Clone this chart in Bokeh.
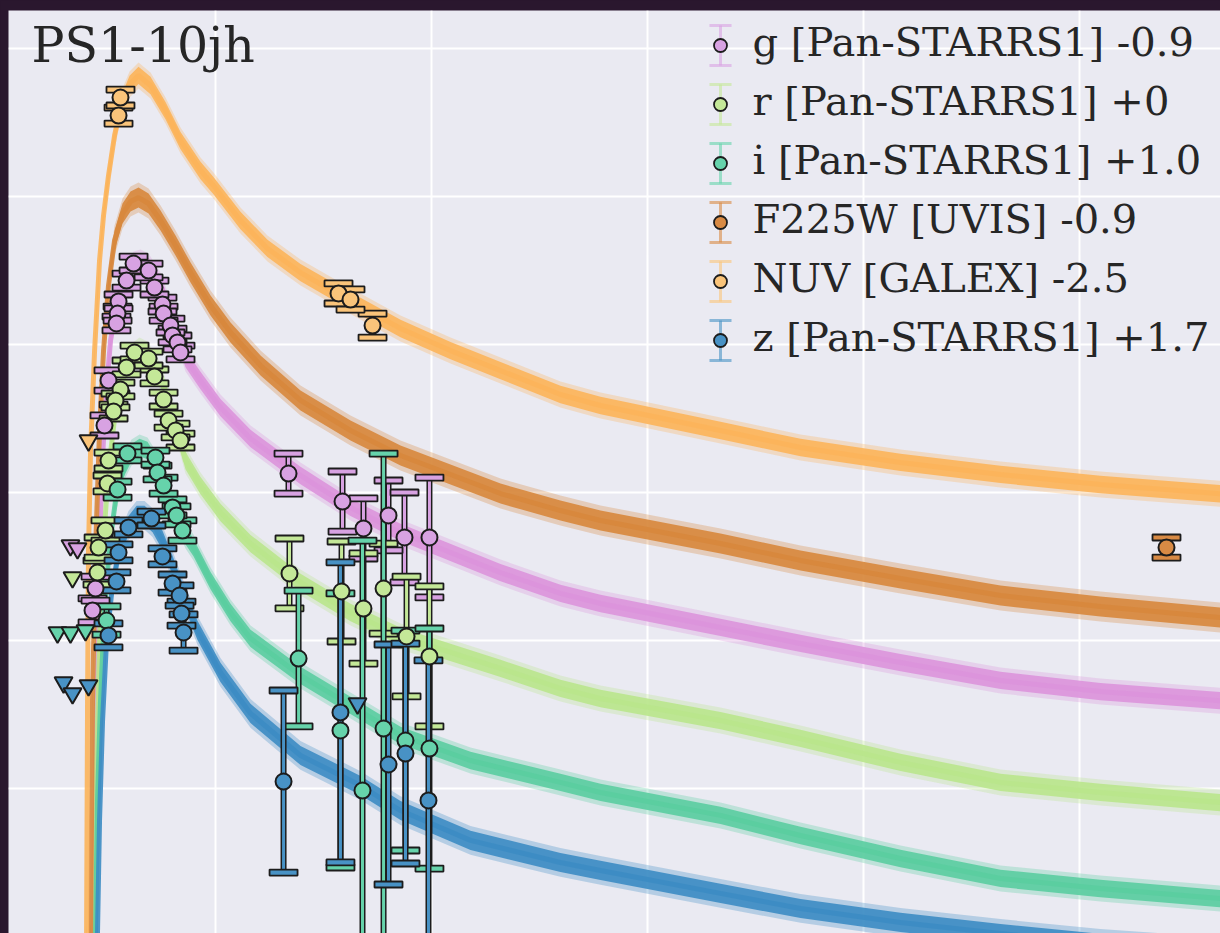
from bokeh.plotting import figure
from bokeh.models import Range1d, FixedTicker
from bokeh.embed import file_html
from bokeh.resources import INLINE
from bokeh.core.properties import value

# ---------------- data (MJD, apparent magnitude incl. offsets) ----------------
band_names = ["g", "r", "i", "F225W", "NUV", "z"]
legend_labels = ["g [Pan-STARRS1] -0.9", "r [Pan-STARRS1] +0", "i [Pan-STARRS1] +1.0",
                 "F225W [UVIS] -0.9", "NUV [GALEX] -2.5", "z [Pan-STARRS1] +1.7"]
title_text = "PS1-10jh"
xgrid_ticks = [55400, 55600, 55800, 56000, 56200]
ygrid_ticks = [17, 18, 19, 20, 21, 22]

# detections
g_t = [55324.1, 55338.0, 55317.6, 55343.5, 55310.2, 55309.3, 55308.3, 55350.9, 55351.9, 55358.3,
       55360.2, 55364.8, 55367.6, 55300.9, 55297.2, 55288.9, 55286.1, 55467.6, 55517.6, 55537.0,
       55560.2, 55575.0, 55598.1]
g_mag = [18.453, 18.500, 18.568, 18.615, 18.709, 18.791, 18.858, 18.730, 18.791, 18.872,
         18.939, 18.986, 19.054, 19.243, 19.547, 20.649, 20.797, 19.872, 20.061, 20.243,
         20.155, 20.304, 20.304]
g_err = [0.047, 0.047, 0.047, 0.047, 0.047, 0.047, 0.047, 0.047, 0.047, 0.047,
         0.047, 0.047, 0.047, 0.068, 0.068, 0.081, 0.081, 0.135, 0.203, 0.203,
         0.236, 0.304, 0.405]
g_lim_t = [55265.7, 55272.2]
g_lim_mag = [20.358, 20.378]

r_t = [55325.0, 55338.0, 55317.6, 55343.5, 55312.0, 55307.4, 55305.6, 55351.9, 55356.5, 55363.0,
       55367.6, 55300.9, 55300.0, 55298.1, 55291.7, 55290.7, 55468.5, 55516.7, 55537.0, 55555.6,
       55576.9, 55598.1]
r_mag = [19.054, 19.095, 19.155, 19.216, 19.304, 19.378, 19.453, 19.372, 19.514, 19.581,
         19.649, 19.784, 19.939, 20.257, 20.372, 20.541, 20.547, 20.669, 20.784, 20.649,
         20.973, 21.108]
r_err = [0.047, 0.047, 0.047, 0.047, 0.047, 0.047, 0.047, 0.047, 0.047, 0.047,
         0.047, 0.054, 0.054, 0.068, 0.068, 0.081, 0.236, 0.338, 0.372, 0.304,
         0.405, 0.473]
r_lim_t = [55267.6]
r_lim_mag = [20.574]

i_t = [55318.5, 55344.4, 55346.3, 55351.9, 55309.3, 55360.2, 55363.9, 55369.4, 55299.1, 55476.9,
       55515.7, 55536.1, 55555.6, 55575.9, 55598.1]
i_mag = [19.736, 19.764, 19.865, 19.953, 19.980, 20.101, 20.155, 20.257, 20.865, 21.122,
         21.608, 22.014, 21.595, 21.676, 21.730]
i_err = [0.047, 0.047, 0.047, 0.054, 0.054, 0.054, 0.061, 0.068, 0.095, 0.459,
         0.926, 1.689, 1.858, 0.743, 0.811]
i_lim_t = [55253.7, 55265.7, 55279.6]
i_lim_mag = [20.946, 20.946, 20.932]

z_t = [55319.4, 55340.7, 55310.2, 55350.9, 55308.3, 55360.2, 55366.7, 55368.5, 55370.4, 55300.9,
       55463.0, 55515.7, 55560.2, 55575.9, 55597.2]
z_mag = [20.236, 20.176, 20.405, 20.432, 20.601, 20.615, 20.696, 20.818, 20.946, 20.966,
         21.953, 21.486, 21.838, 21.764, 22.081]
z_err = [0.047, 0.047, 0.054, 0.054, 0.061, 0.061, 0.068, 0.081, 0.122, 0.081,
         0.615, 1.014, 0.811, 0.743, 0.946]
z_lim_t = [55259.3, 55267.6, 55282.4, 55531.5]
z_lim_mag = [21.284, 21.358, 21.304, 21.426]

nuv_t = [55312.0, 55310.2, 55513.9, 55525.0, 55545.4]
nuv_mag = [17.331, 17.453, 18.655, 18.696, 18.872]
nuv_err = [0.054, 0.054, 0.068, 0.068, 0.081]
nuv_lim_t = [55282.4]
nuv_lim_mag = [19.649]

uvis_t = [56280.6]
uvis_mag = [20.372]
uvis_err = [0.068]

# model light-curve bands (centre line) and half-spread in mag
nuv_model_t = [55278.7, 55280.6, 55281.5, 55282.4, 55284.3, 55288.0, 55292.6, 55296.3, 55300.9, 55306.5,
               55313.0, 55320.4, 55328.7, 55339.8, 55353.7, 55367.6, 55386.1, 55398.1, 55423.1, 55448.1,
               55478.7, 55515.7, 55571.3, 55617.6, 55663.9, 55719.4, 55756.5, 55867.6, 55941.7, 56034.3,
               56126.9, 56219.4, 56339.8]
nuv_model_mag = [23.162, 22.980, 21.405, 20.392, 19.716, 19.041, 18.432, 18.128, 17.858, 17.588,
                 17.372, 17.243, 17.182, 17.250, 17.419, 17.622, 17.824, 17.926, 18.162, 18.351,
                 18.514, 18.669, 18.892, 19.041, 19.176, 19.338, 19.412, 19.581, 19.696, 19.797,
                 19.878, 19.946, 20.014]
uvis_model_t = [55282.4, 55284.3, 55286.1, 55288.9, 55292.6, 55296.3, 55300.9, 55306.5, 55313.9, 55321.3,
                55328.7, 55338.0, 55349.1, 55363.0, 55376.9, 55395.4, 55413.9, 55441.7, 55478.7, 55525.0,
                55571.3, 55663.9, 55719.4, 55756.5, 55867.6, 55941.7, 56034.3, 56126.9, 56219.4, 56339.8]
uvis_model_mag = [23.162, 22.980, 21.405, 20.392, 19.581, 19.041, 18.601, 18.297, 18.115, 18.034,
                  18.007, 18.047, 18.162, 18.331, 18.514, 18.736, 18.919, 19.142, 19.378, 19.581,
                  19.750, 20.007, 20.122, 20.189, 20.345, 20.459, 20.581, 20.696, 20.770, 20.851]
g_model_t = [55285.2, 55287.0, 55288.9, 55291.7, 55294.4, 55298.1, 55302.8, 55309.3, 55316.7, 55324.1,
             55330.6, 55338.0, 55349.1, 55360.2, 55372.2, 55386.1, 55404.6, 55432.4, 55478.7, 55525.0,
             55571.3, 55663.9, 55719.4, 55756.5, 55867.6, 55941.7, 56034.3, 56126.9, 56219.4, 56339.8]
g_model_mag = [23.162, 22.980, 21.743, 20.730, 19.919, 19.378, 18.973, 18.703, 18.534, 18.459,
               18.446, 18.473, 18.601, 18.824, 19.095, 19.243, 19.426, 19.635, 19.885, 20.101,
               20.270, 20.541, 20.682, 20.750, 20.912, 21.020, 21.149, 21.270, 21.345, 21.412]
r_model_t = [55286.1, 55288.0, 55289.8, 55292.6, 55296.3, 55300.9, 55307.4, 55314.8, 55322.2, 55329.6,
             55337.0, 55347.2, 55358.3, 55372.2, 55386.1, 55404.6, 55432.4, 55478.7, 55525.0, 55571.3,
             55663.9, 55719.4, 55756.5, 55867.6, 55941.7, 56034.3, 56126.9, 56219.4, 56339.8]
r_model_mag = [23.162, 22.980, 21.811, 21.000, 20.324, 19.851, 19.446, 19.209, 19.081, 19.041,
               19.068, 19.189, 19.412, 19.784, 19.953, 20.135, 20.345, 20.608, 20.811, 20.973,
               21.189, 21.324, 21.392, 21.541, 21.662, 21.824, 21.959, 22.027, 22.101]
i_model_t = [55287.0, 55288.9, 55290.7, 55293.5, 55297.2, 55301.9, 55307.4, 55314.8, 55322.2, 55329.6,
             55337.0, 55347.2, 55358.3, 55372.2, 55379.6, 55395.4, 55413.9, 55432.4, 55478.7, 55525.0,
             55571.3, 55636.1, 55719.4, 55756.5, 55867.6, 55941.7, 56034.3, 56126.9, 56219.4, 56339.8]
i_model_mag = [23.162, 22.980, 22.081, 21.405, 20.797, 20.358, 20.054, 19.838, 19.730, 19.696,
               19.716, 19.838, 20.054, 20.291, 20.372, 20.595, 20.811, 20.986, 21.236, 21.439,
               21.642, 21.811, 21.959, 22.027, 22.182, 22.318, 22.473, 22.608, 22.676, 22.750]
z_model_t = [55288.9, 55290.7, 55292.6, 55295.4, 55299.1, 55304.6, 55311.1, 55319.4, 55326.9, 55334.3,
             55341.7, 55350.9, 55360.2, 55372.2, 55383.3, 55404.6, 55432.4, 55478.7, 55534.3, 55571.3,
             55636.1, 55719.4, 55756.5, 55867.6, 55941.7, 56034.3, 56126.9, 56219.4, 56339.8]
z_model_mag = [23.162, 22.980, 22.216, 21.541, 21.000, 20.628, 20.378, 20.223, 20.155, 20.155,
               20.203, 20.324, 20.493, 20.730, 20.932, 21.216, 21.493, 21.777, 21.980, 22.149,
               22.351, 22.500, 22.554, 22.709, 22.811, 22.905, 22.980, 23.047, 23.108]
model_spread = {"g": 0.065, "r": 0.065, "i": 0.065, "F225W": 0.075, "NUV": 0.065, "z": 0.072}

# ---------------- styles ----------------
band_color = {"g": "#dc94dc", "r": "#b9e68c", "i": "#5acda0", "F225W": "#d7873c",
              "NUV": "#fcb45a", "z": "#3c8cc3"}
point_color = {"g": "#d8a2e2", "r": "#c4e898", "i": "#66d3ab", "F225W": "#d88a44",
               "NUV": "#fac47a", "z": "#4892c5"}
EDGE = "#1c1c1c"
BG = "#eaeaf2"
DARK = "#2a172e"
SERIF = "DejaVu Serif"

X0, X1 = 55208.3, 56330.6
YT, YB = 16.743, 22.980

p = figure(width=1220, height=933, x_range=Range1d(X0, X1), y_range=Range1d(YB, YT),
           output_backend="svg", toolbar_location=None,
           x_axis_location=None, y_axis_location=None,
           min_border_left=8, min_border_right=0, min_border_bottom=0, min_border_top=10,
           background_fill_color=BG, border_fill_color=DARK, outline_line_color=None)
p.xgrid.ticker = FixedTicker(ticks=xgrid_ticks)
p.ygrid.ticker = FixedTicker(ticks=ygrid_ticks)
p.grid.grid_line_color = "white"
p.grid.grid_line_width = 2

models = {
    "g": (g_model_t, g_model_mag), "r": (r_model_t, r_model_mag), "i": (i_model_t, i_model_mag),
    "F225W": (uvis_model_t, uvis_model_mag), "NUV": (nuv_model_t, nuv_model_mag),
    "z": (z_model_t, z_model_mag),
}
for b in band_names:
    t, m = models[b]
    s = model_spread[b]
    c = band_color[b]
    p.varea(x=t, y1=[v - 1.35 * s for v in m], y2=[v + 1.35 * s for v in m], fill_color=c, fill_alpha=0.3)
    p.varea(x=t, y1=[v - 0.9 * s for v in m], y2=[v + 0.9 * s for v in m], fill_color=c, fill_alpha=0.9)
    p.line(x=t, y=m, line_color=c, line_width=5, line_alpha=0.9)

detections = {
    "g": (g_t, g_mag, g_err), "r": (r_t, r_mag, r_err), "i": (i_t, i_mag, i_err),
    "F225W": (uvis_t, uvis_mag, uvis_err), "NUV": (nuv_t, nuv_mag, nuv_err),
    "z": (z_t, z_mag, z_err),
}
limits = {
    "g": (g_lim_t, g_lim_mag), "r": (r_lim_t, r_lim_mag), "i": (i_lim_t, i_lim_mag),
    "NUV": (nuv_lim_t, nuv_lim_mag), "z": (z_lim_t, z_lim_mag),
}

# error bars
for b in band_names:
    t, m, e = detections[b]
    lo = [a - d for a, d in zip(m, e)]
    hi = [a + d for a, d in zip(m, e)]
    p.segment(x0=t, y0=lo, x1=t, y1=hi, line_color=EDGE, line_width=6)
    p.segment(x0=t, y0=lo, x1=t, y1=hi, line_color=point_color[b], line_width=3)
    for yy in (lo, hi):
        p.rect(x=t, y=yy, width=28, height=6, width_units="screen", height_units="screen",
               fill_color=point_color[b], line_color=EDGE, line_width=1.8)

# upper limits and points
for b in band_names:
    if b in limits:
        lt, lm = limits[b]
        p.scatter(x=lt, y=lm, marker="inverted_triangle", size=18, fill_color=point_color[b],
                  line_color=EDGE, line_width=2)
for b in band_names:
    t, m, e = detections[b]
    p.scatter(x=t, y=m, marker="circle", size=16, fill_color=point_color[b],
              line_color=EDGE, line_width=2)

# ---------------- title and legend (positioned in frame pixels) ----------------
FRAME_L, FRAME_T, FRAME_W, FRAME_H = 8, 10, 1212, 923
TEXT_SHIFT = 18  # renderer places alphabetic baseline this many px lower


def fx(px):
    return X0 + (px - FRAME_L) * (X1 - X0) / FRAME_W


def fy(py):
    return YT + (py - FRAME_T) * (YB - YT) / FRAME_H


p.text(x=[fx(31)], y=[fy(63 - TEXT_SHIFT)], text=[title_text], text_font=value(SERIF),
       text_font_size="49px", text_color="#262626", text_baseline="alphabetic", text_align="left")

row_px = [45 + 59 * k for k in range(len(band_names))]
icon_x = fx(720)
for k, b in enumerate(band_names):
    yc = row_px[k]
    p.segment(x0=[icon_x], y0=[fy(yc - 20)], x1=[icon_x], y1=[fy(yc + 20)],
              line_color=point_color[b], line_width=3, line_alpha=0.6)
    for dy in (-20, 20):
        p.rect(x=[icon_x], y=[fy(yc + dy)], width=22, height=3, width_units="screen",
               height_units="screen", fill_color=point_color[b], fill_alpha=0.6, line_color=None)
    p.scatter(x=[icon_x], y=[fy(yc)], marker="circle", size=13, fill_color=point_color[b],
              line_color=EDGE, line_width=1.8)
p.text(x=[fx(752)] * len(band_names), y=[fy(v + 14 - TEXT_SHIFT) for v in row_px], text=legend_labels,
       text_font=value(SERIF), text_font_size="40px", text_color="#262626",
       text_baseline="alphabetic", text_align="left")

html = file_html(p, INLINE)
html = html.replace("<head>", "<head><style>body{background-color:%s;overflow:hidden;}</style>" % DARK, 1)
open("out.html", "w").write(html)
